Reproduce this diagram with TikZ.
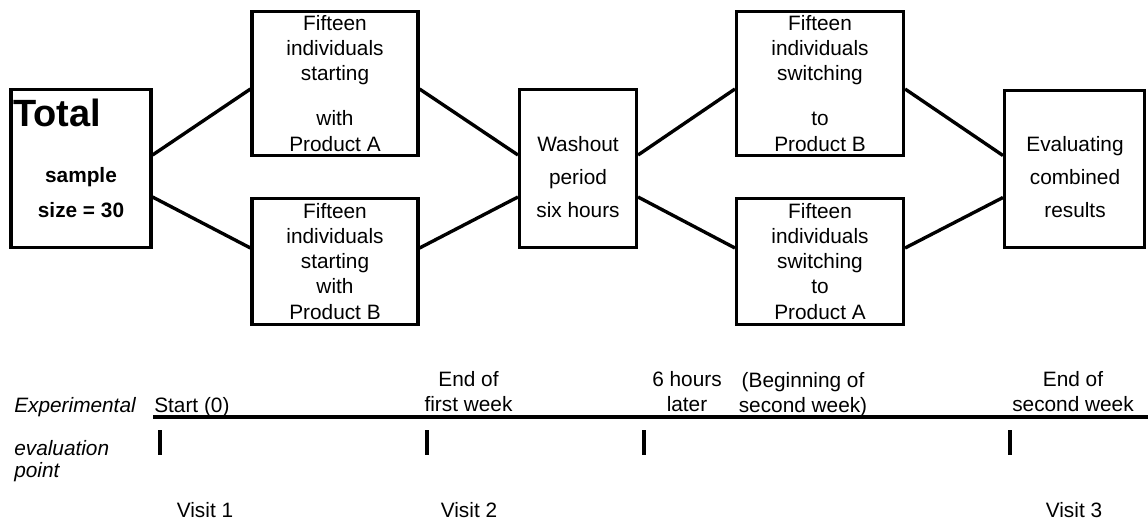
\documentclass[tikz,border=0pt]{standalone}
\usepackage{fontspec}
\setmainfont{Liberation Sans}
\usetikzlibrary{positioning}

\begin{document}
\begin{tikzpicture}[
        x=0.025cm, y=-0.025cm,
        font=\fontsize{14.8pt}{17.8pt}\selectfont,
        box/.style={draw, line width=2.2pt, inner sep=0pt, align=center},
        txt/.style={inner sep=0pt, align=center},
        link/.style={line width=2.4pt},
        tick/.style={line width=2.2pt}
      ]
        \useasboundingbox (0,0) rectangle (1148,520);

        % design boxes
        \node[box, minimum width=3.5cm, minimum height=3.95cm] (total) at (81,168.5) {};
        \node[txt, font=\fontsize{27pt}{31pt}\selectfont\bfseries, anchor=base west] (totalhd) at (13,126) {Total};
        \node[txt, font=\fontsize{14.8pt}{17.8pt}\selectfont\bfseries] (totaltxt) at (81,193) {sample\\[0.25cm]size = 30};
        \node[box, minimum width=4.15cm, minimum height=3.6cm] (a1) at (335,83.5) {Fifteen\\individuals\\starting\\[0.5cm]with\\Product A};
        \node[box, minimum width=4.15cm, minimum height=3.15cm] (b1) at (335,261.5) {Fifteen\\individuals\\starting\\with\\Product B};
        \node[box, minimum width=2.925cm, minimum height=3.95cm] (wash) at (578,168.5) {};
        \node[txt] (washtxt) at (578,177) {Washout\\[0.21cm]period\\[0.21cm]six hours};
        \node[box, minimum width=4.175cm, minimum height=3.6cm] (a2) at (820,83.5) {Fifteen\\individuals\\switching\\[0.5cm]to\\Product B};
        \node[box, minimum width=4.175cm, minimum height=3.15cm] (b2) at (820,261.5) {Fifteen\\individuals\\switching\\to\\Product A};
        \node[box, minimum width=3.5cm, minimum height=3.925cm] (eval) at (1074.5,169) {};
        \node[txt] (evaltxt) at (1075,177) {Evaluating\\[0.21cm]combined\\[0.21cm]results};

        \draw[link] ([yshift=0.3375cm]total.east) -- ([yshift=-0.1375cm]a1.west);
        \draw[link] ([yshift=-0.7125cm]total.east) -- ([yshift=0.3375cm]b1.west);
        \draw[link] ([yshift=-0.1375cm]a1.east) -- ([yshift=0.3375cm]wash.west);
        \draw[link] ([yshift=0.3375cm]b1.east) -- ([yshift=-0.7125cm]wash.west);
        \draw[link] ([yshift=0.3375cm]wash.east) -- ([yshift=-0.1375cm]a2.west);
        \draw[link] ([yshift=-0.7125cm]wash.east) -- ([yshift=0.3375cm]b2.west);
        \draw[link] ([yshift=-0.1375cm]a2.east) -- ([yshift=0.3375cm]eval.west);
        \draw[link] ([yshift=0.3375cm]b2.east) -- ([yshift=-0.7125cm]eval.west);

        % time line
        \coordinate (t0) at (153,417);
        \coordinate (t1) at (1148,417);
        \draw[tick] (t0) -- (t1);
        \foreach \x in {160,427,644,1010}
            \draw[tick] (\x,430) -- (\x,455);

        \node[txt, font=\fontsize{14.8pt}{17.8pt}\selectfont\itshape, anchor=base west] (expt) at (14,412) {Experimental};
        \node[txt, font=\fontsize{14.8pt}{17.8pt}\selectfont\itshape, align=left, anchor=west] (evpt) at (14,460.7) {evaluation\\[-0.075cm]point};
        \node[txt, anchor=base west] (start) at (154,412) {Start (0)};
        \node[txt] (week1) at (468.5,392) {End of\\first week};
        \node[txt] (later) at (687,392) {6 hours\\later};
        \node[txt] (begin) at (803,394.2) {(Beginning of\\second week)};
        \node[txt] (week2) at (1073,392) {End of\\second week};
        \node[txt, anchor=base] (v1) at (205,517) {Visit 1};
        \node[txt, anchor=base] (v2) at (469,517) {Visit 2};
        \node[txt, anchor=base] (v3) at (1074,517) {Visit 3};
    \end{tikzpicture}
\end{document}
